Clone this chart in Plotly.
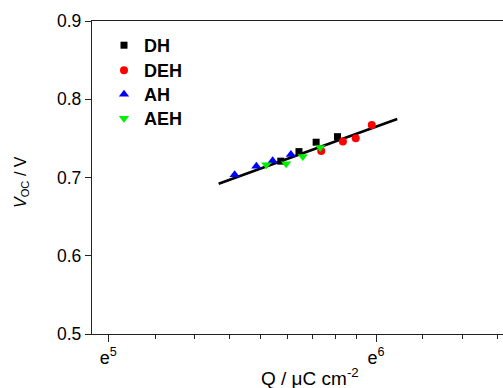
import numpy as np
import plotly.graph_objects as go

# Data (Q in uC cm^-2, Voc in V)
dh_q = [282.6, 302.5, 322.5, 349.3]
dh_v = [0.7209, 0.7331, 0.7451, 0.7522]
deh_q = [328.7, 356.4, 373.9, 397.0]
deh_v = [0.7340, 0.7459, 0.7502, 0.7671]
ah_q = [237.9, 258.0, 274.2, 293.5]
ah_v = [0.7034, 0.7145, 0.7215, 0.7294]
aeh_q = [267.7, 288.3, 306.8, 327.4]
aeh_v = [0.7162, 0.7175, 0.7268, 0.7382]
fit_q = [224.1, 436.6]
fit_v = [0.6920, 0.7748]

x_tick_exp = [5, 6]
y_ticks = [0.5, 0.6, 0.7, 0.8, 0.9]

FONT = "Liberation Sans, Arial, sans-serif"
AX = "#222222"
L, R, T, B = 92, 0, 21, 54
W, H = 503, 388
plot_w, plot_h = W - L - R, H - T - B

def px_to_paper(px, py):
    return (px - L) / plot_w, (H - B - py) / plot_h

fig = go.Figure()
fig.add_trace(go.Scatter(x=fit_q, y=fit_v, mode="lines",
                         line=dict(color="black", width=2.6), showlegend=False))
series = [
    ("DH", dh_q, dh_v, "square", "#000000", 7),
    ("DEH", deh_q, deh_v, "circle", "#ff0000", 8),
    ("AH", ah_q, ah_v, "triangle-up", "#0000ff", 9),
    ("AEH", aeh_q, aeh_v, "triangle-down", "#00ee00", 9),
]
legend_tops = [27, 52, 76, 100]
legend_layout = {}
for i, (name, q, v, sym, col, sz) in enumerate(series):
    lname = "legend" if i == 0 else "legend%d" % (i + 1)
    fig.add_trace(go.Scatter(x=q, y=v, mode="markers", name=name, legend=lname,
                             marker=dict(symbol=sym, color=col, size=sz, line=dict(width=0))))
    lx, ly = px_to_paper(104, legend_tops[i])
    legend_layout[lname] = dict(x=lx, y=ly, xanchor="left", yanchor="top",
                                font=dict(family=FONT, size=18, color="black", weight="bold"),
                                bgcolor="rgba(0,0,0,0)")

# Origin-style minor ticks (linear subdivision between powers of e)
minor_vals = []
for k in [4, 5, 6]:
    a, b = np.e ** k, np.e ** (k + 1)
    for j in range(1, 9):
        minor_vals.append(a + j * (b - a) / 9)

xr = [4.939 / np.log(10), 6.474 / np.log(10)]

fig.update_layout(
    width=W, height=H,
    margin=dict(l=L, r=R, t=T, b=B),
    paper_bgcolor="white", plot_bgcolor="white",
    font=dict(family=FONT, size=17, color="black"),
    showlegend=True,
    xaxis=dict(type="log", range=xr, showgrid=False, zeroline=False,
               showline=True, linecolor=AX, linewidth=1.3, mirror=True,
               ticks="outside", ticklen=7, tickwidth=1.3, tickcolor=AX,
               tickmode="array", tickvals=[np.e ** k for k in x_tick_exp],
               ticktext=["e<sup>%d</sup>" % k for k in x_tick_exp],
               tickfont=dict(size=18),
               minor=dict(tickmode="array", tickvals=minor_vals, ticks="outside",
                          ticklen=4, tickwidth=1.3, tickcolor=AX, showgrid=False)),
    yaxis=dict(range=[0.5, 0.9], showgrid=False, zeroline=False,
               showline=True, linecolor=AX, linewidth=1.3,
               ticks="outside", ticklen=6, tickwidth=1.3, tickcolor=AX,
               tickmode="array", tickvals=y_ticks,
               ticktext=["%.1f" % t for t in y_ticks], tickfont=dict(size=17.5)),
    **legend_layout,
)

ax_, ay_ = px_to_paper(310, 377)
fig.add_annotation(x=ax_, y=ay_, xref="paper", yref="paper", showarrow=False,
                   text="Q / \u03bcC cm<sup>-2</sup>", font=dict(size=19, family=FONT),
                   xanchor="center", yanchor="middle")
bx_, by_ = px_to_paper(21, 182)
fig.add_annotation(x=bx_, y=by_, xref="paper", yref="paper", showarrow=False,
                   text="<i>V</i><sub>OC</sub> / V", textangle=-90,
                   font=dict(size=16, family=FONT), xanchor="center", yanchor="middle")

fig.write_html("out.html")
